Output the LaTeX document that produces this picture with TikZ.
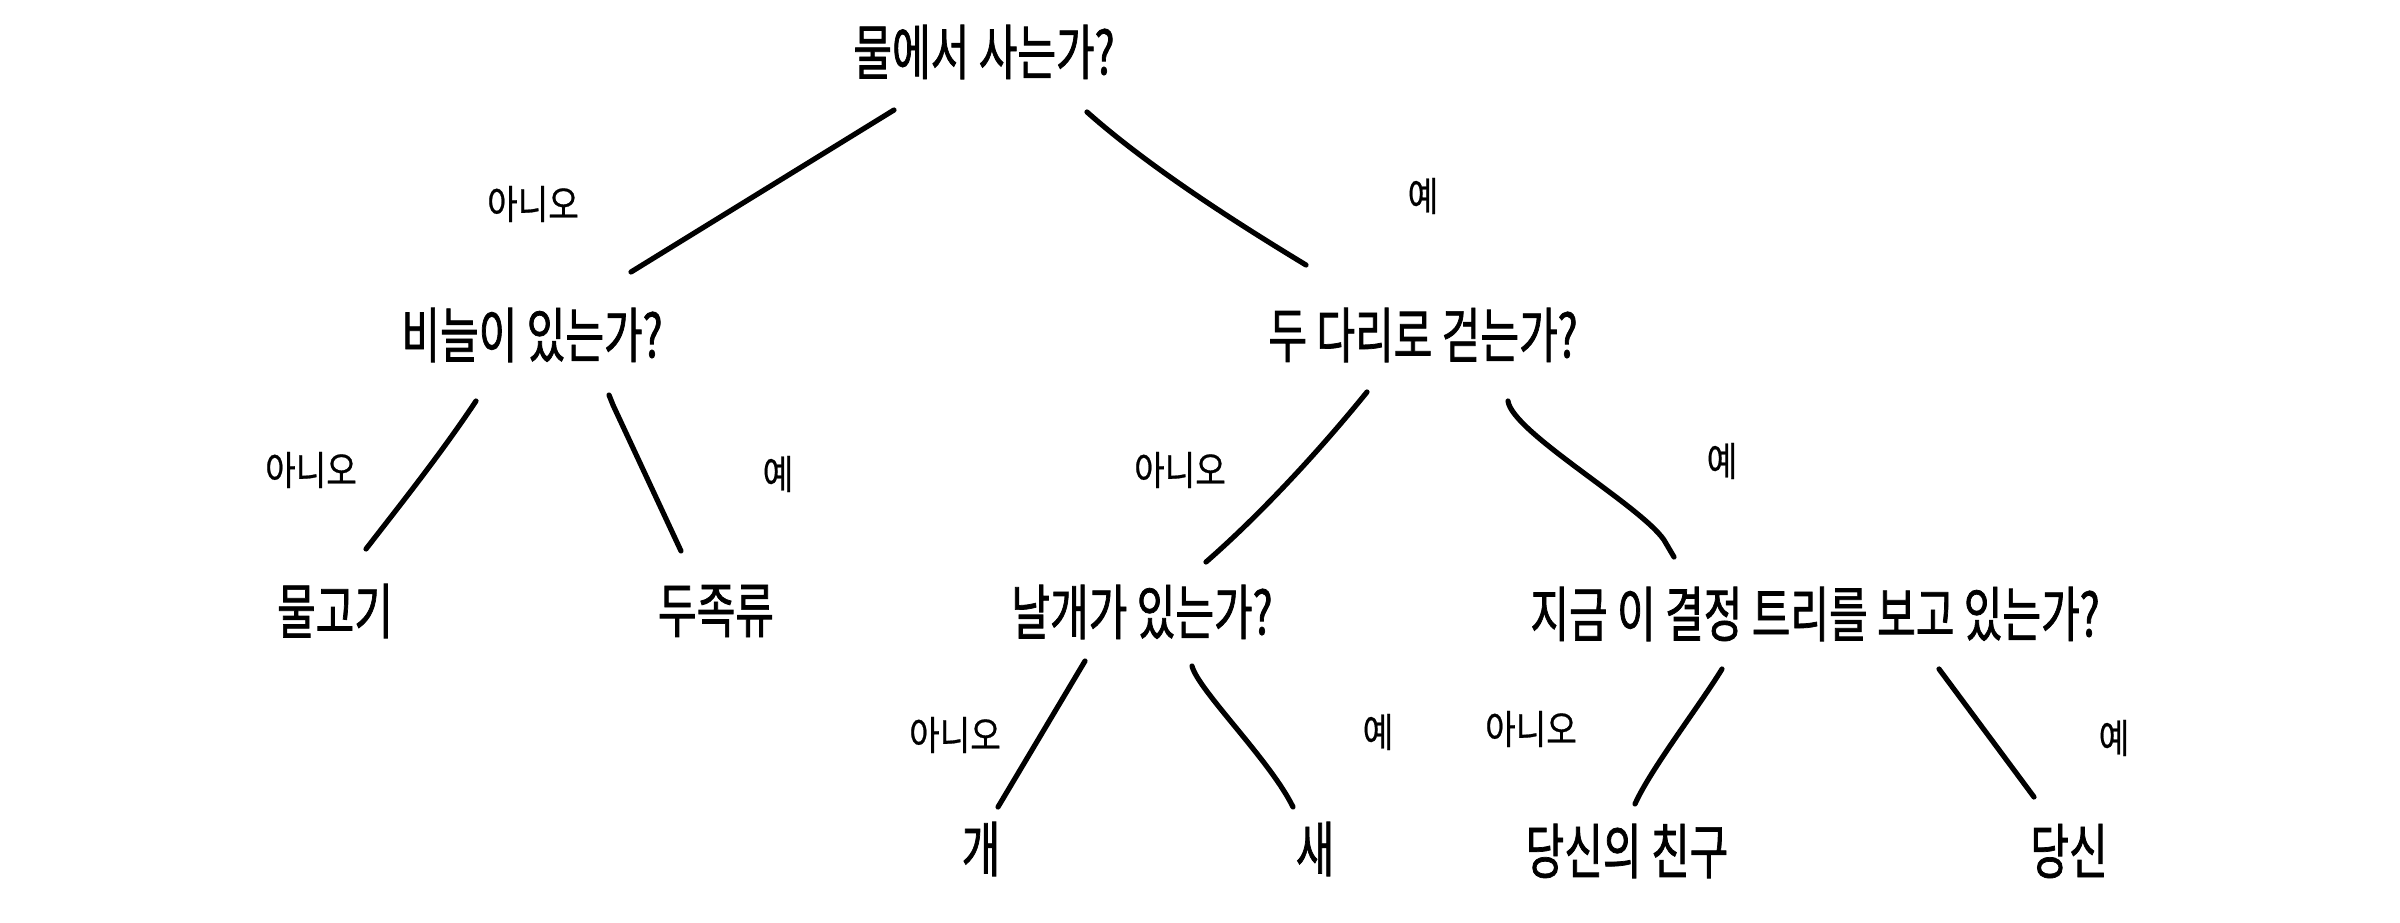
\documentclass[tikz,border=0pt]{standalone}
\usepackage{fontspec}
\newfontfamily\krmain[FakeStretch=0.70,FakeBold=1.2]{Noto Sans CJK KR}
\newfontfamily\krlab[FakeStretch=0.83,FakeBold=0.6]{Noto Sans CJK KR}
\begin{document}
\begin{tikzpicture}[x=0.5pt,y=-0.5pt,
  q/.style={inner sep=0pt,font=\krmain\fontsize{30pt}{34pt}\selectfont},
  lab/.style={inner sep=0pt,font=\krlab\fontsize{20pt}{23pt}\selectfont},
  edge/.style={line width=2.6pt,line cap=round,line join=round}]
\useasboundingbox (0,0) rectangle (2400,922);
% question / leaf nodes
\node[q] (root) at (984,52) {물에서 사는가?};
\node[q] (scale) at (532,335) {비늘이 있는가?};
\node[q] (legs) at (1423,335) {두 다리로 걷는가?};
\node[q] (fish) at (335,611) {물고기};
\node[q] (ceph) at (716,611) {두족류};
\node[q] (wing) at (1142,612) {날개가 있는가?};
\node[q] (look) at (1815,614) {지금 이 결정 트리를 보고 있는가?};
\node[q] (dog) at (981,849) {개};
\node[q] (bird) at (1315,849) {새};
\node[q] (friend) at (1627,851) {당신의 친구};
\node[q] (you) at (2069,851) {당신};
% edge labels
\node[lab] (l1) at (533,204) {아니오};
\node[lab] (l2) at (1423,196) {예};
\node[lab] (l3) at (311,470) {아니오};
\node[lab] (l4) at (778,474) {예};
\node[lab] (l5) at (1180,470) {아니오};
\node[lab] (l6) at (1722,461) {예};
\node[lab] (l7) at (955,735) {아니오};
\node[lab] (l8) at (1378,732) {예};
\node[lab] (l9) at (1531,729) {아니오};
\node[lab] (l10) at (2114,738) {예};
% connector end points
\coordinate (a1) at (894,110); \coordinate (b1) at (631,272);
\coordinate (a2) at (1087,112); \coordinate (b2) at (1306,265);
\coordinate (a3) at (476,401); \coordinate (b3) at (366,549);
\coordinate (a4) at (609,395); \coordinate (b4) at (681,551);
\coordinate (a5) at (1367,392); \coordinate (b5) at (1206,562);
\coordinate (a6) at (1508,401); \coordinate (b6) at (1674,557);
\coordinate (a7) at (1085,661); \coordinate (b7) at (998,807);
\coordinate (a8) at (1192,666); \coordinate (b8) at (1293,807);
\coordinate (a9) at (1722,669); \coordinate (b9) at (1635,804);
\coordinate (a10) at (1939,669); \coordinate (b10) at (2034,797);
% connectors
\draw[edge] (a1) -- (b1);
\draw[edge] (a2) .. controls (1150,168) and (1240,225) .. (b2);
\draw[edge] (a3) .. controls (440,455) and (400,505) .. (b3);
\draw[edge] (a4) -- ++(4,10) -- (b4);
\draw[edge] (a5) .. controls (1320,450) and (1260,515) .. (b5);
\draw[edge] (a6) .. controls (1512,432) and (1640,505) .. (1664,540) -- (b6);
\draw[edge] (a7) -- (b7);
\draw[edge] (a8) .. controls (1198,690) and (1270,760) .. (b8);
\draw[edge] (a9) .. controls (1700,705) and (1650,770) .. (b9);
\draw[edge] (a10) -- (b10);
\end{tikzpicture}
\end{document}
